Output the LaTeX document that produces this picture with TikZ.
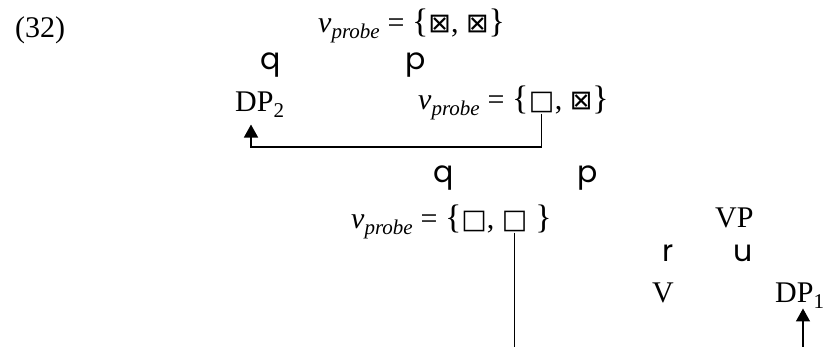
\documentclass[tikz,border=0pt]{standalone}
\usepackage{fontspec}
\setmainfont{Liberation Serif}
\newfontfamily\branchfont{Poppins}
\newfontfamily\symbolfont{DejaVu Sans}
\usetikzlibrary{arrows.meta,positioning}

\newcommand{\vprobe}{\textit{v}\textsubscript{\textit{probe}}}
\newcommand{\ebox}{{\symbolfont\fontsize{27}{27}\selectfont □}}
\newcommand{\xbox}{{\symbolfont\fontsize{27}{27}\selectfont ⊠}}
\newcommand{\lbr}{{\fontsize{34}{34}\selectfont\{}}
\newcommand{\rbr}{{\fontsize{34}{34}\selectfont\}}}

\tikzset{
  lbl/.style={inner sep=0pt, anchor=base west, font=\fontsize{30}{36}\selectfont},
  branch/.style={inner sep=0pt, anchor=base west, font=\branchfont\fontsize{30}{36}\selectfont},
  link/.style={line width=1.6pt, -{Triangle[length=13pt,width=14pt]}},
  plain/.style={line width=1.6pt}
}

\begin{document}
\begin{tikzpicture}[x=1pt,y=-1pt]
  \useasboundingbox (0,0) rectangle (828,347);
  \node[lbl] (num) at (15,38) {(32)};
  % feature sets
  \node[lbl] (top) at (318,33) {\vprobe{} = \lbr\xbox, \xbox\rbr};
  \node[lbl] (lab2) at (418,110) {\vprobe{} = \lbr};
  \node[lbl] (lab2box) at (lab2.base east) {\ebox};
  \node[lbl] (lab2end) at (lab2box.base east) {, \xbox\rbr};
  \node[lbl] (lab3) at (351,229) {\vprobe{} = \lbr\ebox,};
  \node[lbl] (lab3box) at ([xshift=7pt]lab3.base east) {\ebox};
  \node[lbl] (lab3end) at (lab3box.base east) {\ \rbr};
  % categories
  \node[lbl] (dp2) at (235,112) {DP\textsubscript{2}};
  \node[lbl] (vp) at (715,228) {VP};
  \node[lbl] (v) at (652,303) {V};
  \node[lbl] (dp1) at (775,303) {DP\textsubscript{1}};
  % branches
  \foreach \nm/\ch/\x/\y in {q1/q/260/70, p1/p/405/70, q2/q/433/183,
                             p2/p/577/183, r1/r/662/262, u1/u/733/262}
    \node[branch] (\nm) at (\x,\y) {\ch};
  % movement
  \coordinate (lowbar) at (0,147);
  \coordinate (bottom) at (0,347);
  \coordinate (dp2foot) at ([xshift=16pt,yshift=-7pt]dp2.south west);
  \coordinate (dp1foot) at (803,347);
  \draw[link] (lab2box.south) -- (lab2box.south |- lowbar) -| (dp2foot);
  \draw[plain] (lab3box.south) -- (lab3box.south |- bottom);
  \draw[link] (dp1foot) -- (dp1foot |- dp1.south);
\end{tikzpicture}
\end{document}
